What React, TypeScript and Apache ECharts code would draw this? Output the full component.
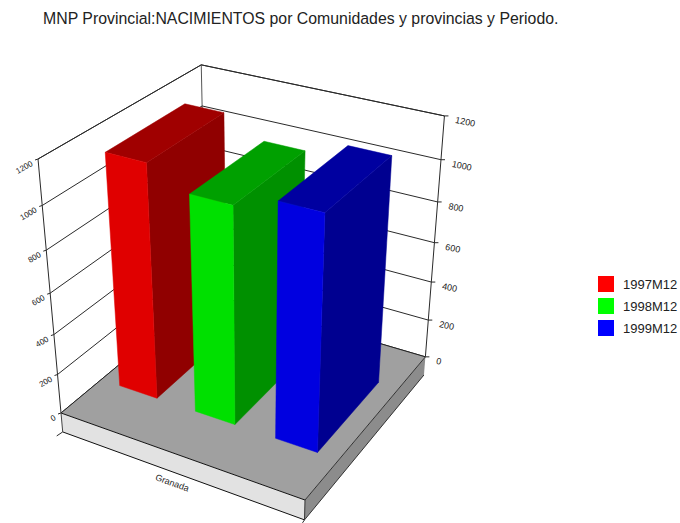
import React, { useEffect, useRef } from "react";
import * as echarts from "echarts";

const titleText = "MNP Provincial:NACIMIENTOS por Comunidades y provincias y Periodo.";
const categories = ["Granada"];
const seriesNames = ["1997M12", "1998M12", "1999M12"];
const values1997 = [1135];
const values1998 = [1045];
const values1999 = [1113];
const yTicks = [0, 200, 400, 600, 800, 1000, 1200];
const yMin = 0;
const yMax = 1200;
const slabDepth = -101;

const legendColors = ["#ff0000", "#00ff00", "#0000ff"];
const faceColors = [
  { front: "#e00000", top: "#a00000", side: "#900000" },
  { front: "#00e000", top: "#00a000", side: "#009000" },
  { front: "#0000e0", top: "#0000a0", side: "#000090" },
];
const FONT = '"Liberation Sans", Arial, sans-serif';
const LINE = "#2a2a2a";

// Perspective camera: three vanishing points and the weight of each box edge.
const O = [61, 413];
const VU = [-2513, -505];
const VV = [1113, -461];
const VH = [253, 2535];
const wU = -0.08659;
const wV = 0.1599;
const wH = -0.1069;

function project(u: number, v: number, h: number): number[] {
  const a = wU * u;
  const b = wV * v;
  const c = wH * h;
  const d = 1 + a + b + c;
  return [
    (a * VU[0] + b * VV[0] + c * VH[0] + O[0]) / d,
    (a * VU[1] + b * VV[1] + c * VH[1] + O[1]) / d,
  ];
}

// Height fraction read through the (hidden) value axis.
function heightOf(api: any, value: number): number {
  const base = api.coord([0, yMin])[1];
  const top = api.coord([0, yMax])[1];
  return (base - api.coord([0, value])[1]) / (base - top);
}

const poly = (points: number[][], fill: string, extra: any = {}) => ({
  type: "polygon",
  silent: true,
  shape: { points },
  style: { fill, ...extra },
});
const seg = (p: number[], q: number[], stroke = LINE, lineWidth = 1) => ({
  type: "line",
  silent: true,
  shape: { x1: p[0], y1: p[1], x2: q[0], y2: q[1] },
  style: { stroke, lineWidth, fill: "none" },
});
const label = (text: string, x: number, y: number, rotation: number, align: string, size = 9) => ({
  type: "text",
  silent: true,
  x,
  y,
  rotation,
  style: {
    text,
    fill: "#222",
    font: `${size}px ${FONT}`,
    textAlign: align,
    textVerticalAlign: "middle",
    verticalAlign: "middle",
  },
});

function renderFrame() {
  return {
    type: "group",
    children: [
      seg(project(0, 0, 1), project(0, 1, 1)),
      seg(project(0, 1, 1), project(1, 1, 1)),
      seg(project(0, 0, 1), project(0, 0, 0)),
      seg(project(0, 1, 1), project(0, 1, 0), "#555"),
      seg(project(1, 1, 1), project(1, 1, 0)),
    ],
  };
}

function renderTick(_p: any, api: any) {
  const value = api.value(1);
  const h = heightOf(api, value);
  const left = project(0, 0, h);
  const back = project(0, 1, h);
  const right = project(1, 1, h);
  return {
    type: "group",
    children: [
      seg(left, back),
      seg(back, right),
      seg(left, [left[0] - 3, left[1] + 1]),
      seg(right, [right[0] + 4, right[1]]),
      label(String(value), left[0] - 6, left[1] + 4, 0.52, "right", 8),
      label(String(value), right[0] + 11, right[1] + 4, -0.2, "left", 9),
    ],
  };
}

function renderFloor(_p: any, api: any) {
  const s = heightOf(api, slabDepth);
  const a = project(0, 0, 0);
  const b = project(1, 0, 0);
  const c = project(1, 1, 0);
  const d = project(0, 1, 0);
  const a2 = project(0, 0, s);
  const b2 = project(1, 0, s);
  const c2 = project(1, 1, s);
  const name = String(categories[api.value(0)]);
  const mid = project(0.5, 0, s);
  return {
    type: "group",
    children: [
      poly([a, b, c, d], "#a0a0a0"),
      poly([a, b, b2, a2], "#e2e2e2"),
      poly([b, c, c2, b2], "#8c8c8c"),
      seg(a, b, "#111"),
      seg(a2, b2, "#111"),
      seg(a, a2, "#444"),
      seg(b, b2, "#333"),
      seg(b, c, "#333"),
      seg(b2, c2, "#333"),
      seg(d, c, "#222"),
      seg(a, d, "#222"),
      seg(a2, [a2[0] - 6, a2[1] + 4]),
      seg(b2, [b2[0] - 2, b2[1] + 3]),
      label(name, mid[0] - 6, mid[1] + 9, -0.35, "center"),
    ],
  };
}

function renderBar(index: number) {
  return (_p: any, api: any) => {
    const h = heightOf(api, api.value(1));
    const u0 = (1 + 4 * index) / 12;
    const u1 = (3 + 4 * index) / 12;
    const v0 = 0.25;
    const v1 = 0.75;
    const c = faceColors[index];
    return {
      type: "group",
      children: [
        poly(
          [project(u1, v0, 0), project(u1, v1, 0), project(u1, v1, h), project(u1, v0, h)],
          c.side,
          { stroke: c.side, lineWidth: 0.5 }
        ),
        poly(
          [project(u0, v0, h), project(u1, v0, h), project(u1, v1, h), project(u0, v1, h)],
          c.top,
          { stroke: c.top, lineWidth: 0.5 }
        ),
        poly(
          [project(u0, v0, 0), project(u1, v0, 0), project(u1, v0, h), project(u0, v0, h)],
          c.front,
          { stroke: c.front, lineWidth: 0.5 }
        ),
      ],
    };
  };
}

export default function App() {
  const ref = useRef<HTMLDivElement>(null);
  useEffect(() => {
    const chart = echarts.init(ref.current!, undefined, { renderer: "svg" });
    const allValues = [values1997, values1998, values1999];
    chart.setOption({
      animation: false,
      backgroundColor: "#ffffff",
      title: {
        text: titleText,
        left: 43,
        top: 10,
        padding: 0,
        textStyle: { fontFamily: FONT, fontSize: 15.85, fontWeight: "normal", color: "#222" },
      },
      legend: {
        orient: "vertical",
        left: 598,
        top: 276,
        padding: 0,
        itemWidth: 16,
        itemHeight: 16,
        itemGap: 6,
        selectedMode: false,
        icon: "rect",
        data: seriesNames.map((name, i) => ({
          name,
          itemStyle: { color: legendColors[i] },
        })),
        textStyle: { fontFamily: FONT, fontSize: 13, color: "#222", padding: [0, 0, 0, 4] },
      },
      grid: { left: 0, right: 0, top: 0, bottom: 0, show: false },
      xAxis: { type: "category", data: categories, show: false },
      yAxis: { type: "value", min: yMin, max: yMax, interval: 200, show: false },
      series: [
        {
          type: "custom",
          name: "frame",
          renderItem: renderFrame,
          data: [[0, 0]],
          z: 1,
        },
        {
          type: "custom",
          name: "ticks",
          renderItem: renderTick,
          data: yTicks.map((t) => [0, t]),
          z: 2,
        },
        {
          type: "custom",
          name: "floor",
          renderItem: renderFloor,
          data: [[0, 0]],
          z: 3,
        },
        ...seriesNames.map((name, i) => ({
          type: "custom",
          name,
          itemStyle: { color: legendColors[i] },
          renderItem: renderBar(i),
          data: allValues[i].map((v, c) => [c, v]),
          z: 4 + i,
        })),
      ],
    });
    return () => chart.dispose();
  }, []);
  return (
    <div
      ref={ref}
      style={{ position: "fixed", left: 0, top: 0, width: 680, height: 523 }}
    />
  );
}
